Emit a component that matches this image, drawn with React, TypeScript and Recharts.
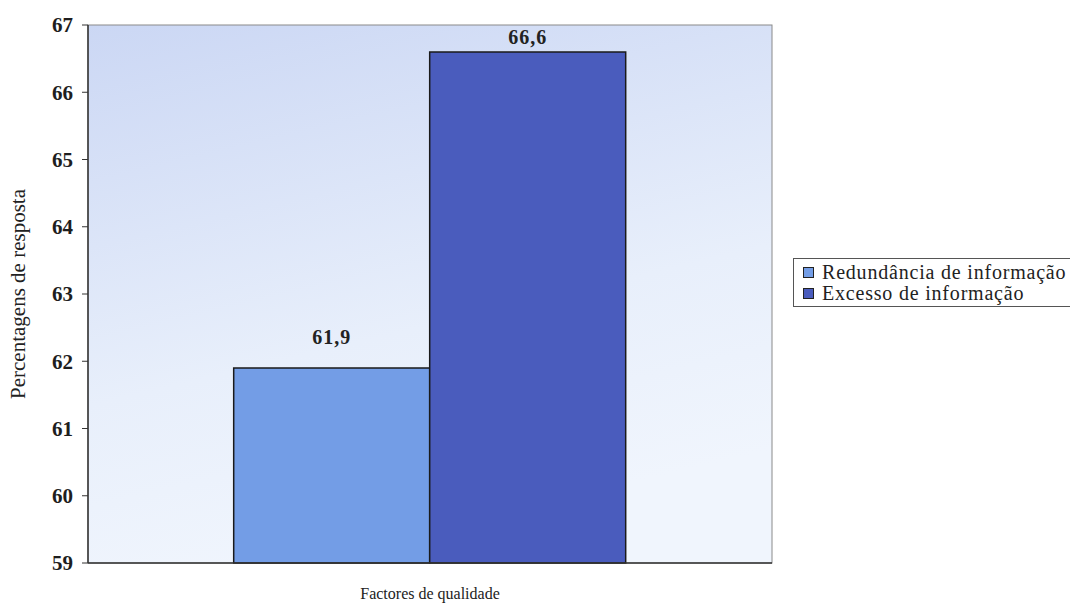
import { BarChart, Bar, XAxis, YAxis, LabelList, Label } from 'recharts';

const categories = ['Factores de qualidade'];
const seriesNames = ['Redundância de informação', 'Excesso de informação'];
const redundancia = [61.9];
const excesso = [66.6];
const yTicks = [59, 60, 61, 62, 63, 64, 65, 66, 67];

const colors = ['#739de6', '#4a5cbd'];

const data = categories.map((name, i) => ({
  name,
  redundancia: redundancia[i],
  excesso: excesso[i],
}));

const FONT = 'Liberation Serif';
const fmt = (v: number) => v.toFixed(1).replace('.', ',');
const valueLabelStyle = { fontFamily: FONT, fontSize: 20, fill: '#222', fontWeight: 'bold' as const, letterSpacing: 1 };

export default function App() {
  return (
    <div style={{ position: 'absolute', left: 0, top: 0, width: 1070, height: 606, background: '#fff', fontFamily: FONT, overflow: 'hidden' }}>
      <BarChart
        width={1070}
        height={606}
        data={data}
        margin={{ top: 25, right: 298, bottom: 0, left: 0 }}
        barCategoryGap="21.3%"
        barGap={0}
        style={{ fontFamily: FONT }}
      >
        <defs>
          <linearGradient id="plotBg" x1="0" y1="0" x2="0.3" y2="1">
            <stop offset="0%" stopColor="#cbd7f4" />
            <stop offset="65%" stopColor="#e8effb" />
            <stop offset="100%" stopColor="#f0f5fd" />
          </linearGradient>
        </defs>
        <rect x={88} y={25} width={684} height={538} fill="url(#plotBg)" stroke="#8a8a8a" strokeWidth={1} />
        <XAxis
          xAxisId="edge"
          type="number"
          domain={[0, 1]}
          ticks={[0, 1]}
          height={0}
          axisLine={false}
          tickLine={{ stroke: '#333' }}
          tickSize={6}
          tickFormatter={() => ''}
        />
        <XAxis
          dataKey="name"
          tick={false}
          tickLine={false}
          axisLine={{ stroke: '#333', strokeWidth: 1.5 }}
          height={43}
        >
          <Label value={categories[0]} position="insideBottom" offset={7} style={{ fontFamily: FONT, fontSize: 16, fill: '#222' }} />
        </XAxis>
        <YAxis
          domain={[59, 67]}
          ticks={yTicks}
          interval={0}
          width={88}
          axisLine={{ stroke: '#333', strokeWidth: 1.5 }}
          tickLine={{ stroke: '#333' }}
          tickSize={6}
          tickMargin={9}
          tick={{ fontFamily: FONT, fontSize: 21, fill: '#1e1e1e', fontWeight: 'bold' }}
        >
          <Label
            value="Percentagens de resposta"
            angle={-90}
            position="insideLeft"
            offset={18}
            style={{ fontFamily: FONT, fontSize: 21, fill: '#222', textAnchor: 'middle' }}
          />
        </YAxis>
        <Bar dataKey="redundancia" name={seriesNames[0]} fill={colors[0]} stroke="#1a1a1a" strokeWidth={1.5} isAnimationActive={false}>
          <LabelList dataKey="redundancia" position="top" offset={24} formatter={(v: any) => fmt(Number(v))} style={valueLabelStyle} />
        </Bar>
        <Bar dataKey="excesso" name={seriesNames[1]} fill={colors[1]} stroke="#1a1a1a" strokeWidth={1.5} isAnimationActive={false}>
          <LabelList dataKey="excesso" position="top" offset={8} formatter={(v: any) => fmt(Number(v))} style={valueLabelStyle} />
        </Bar>
      </BarChart>
      <div
        style={{
          position: 'absolute',
          left: 793,
          top: 258,
          width: 300,
          height: 49,
          border: '1px solid #555',
          boxSizing: 'border-box',
          fontFamily: FONT,
          fontSize: 20,
          color: '#222',
          letterSpacing: 0.8,
        }}
      >
        {seriesNames.map((s, i) => (
          <div key={s} style={{ display: 'flex', alignItems: 'center', height: 21, marginTop: i === 0 ? 3 : 0 }}>
            <span
              style={{
                display: 'inline-block',
                width: 9,
                height: 9,
                marginLeft: 9,
                marginRight: 8,
                background: colors[i],
                border: '1.5px solid #222',
              }}
            />
            <span style={{ whiteSpace: 'nowrap', fontFamily: FONT }}>{s}</span>
          </div>
        ))}
      </div>
    </div>
  );
}
